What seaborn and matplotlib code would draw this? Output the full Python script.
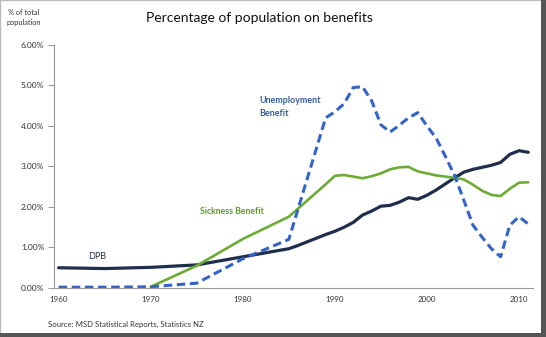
import numpy as np
import pandas as pd
import matplotlib
matplotlib.use("Agg")
import matplotlib.pyplot as plt
import seaborn as sns
from matplotlib.patches import Rectangle

years = [1960, 1965, 1970, 1975, 1980, 1985] + list(range(1986, 2012))

dpb = [0.50, 0.48, 0.51, 0.57, 0.77, 0.97,
       1.05, 1.14, 1.23, 1.32, 1.40, 1.50, 1.62, 1.80, 1.90, 2.02,
       2.04, 2.12, 2.23, 2.19, 2.29, 2.42, 2.57, 2.72, 2.86, 2.93,
       2.98, 3.03, 3.10, 3.30, 3.39, 3.35]

sickness = [np.nan, np.nan, 0.03, 0.55, 1.21, 1.76,
            1.96, 2.16, 2.36, 2.56, 2.77, 2.79, 2.75, 2.71, 2.76, 2.83,
            2.93, 2.98, 2.99, 2.88, 2.83, 2.78, 2.75, 2.72, 2.68, 2.55,
            2.40, 2.30, 2.27, 2.45, 2.60, 2.61]

unemployment = [0.02, 0.02, 0.03, 0.12, 0.72, 1.20,
                1.95, 2.70, 3.45, 4.20, 4.35, 4.55, 4.95, 4.97, 4.62, 4.03,
                3.85, 4.02, 4.20, 4.33, 4.00, 3.70, 3.25, 2.78, 2.17, 1.55,
                1.25, 0.97, 0.77, 1.55, 1.76, 1.58]

ytick_vals = [0, 1, 2, 3, 4, 5, 6]
ytick_labels = ["0.00%", "1.00%", "2.00%", "3.00%", "4.00%", "5.00%", "6.00%"]
xtick_vals = [1960, 1970, 1980, 1990, 2000, 2010]
xtick_labels = ["1960", "1970", "1980", "1990", "2000", "2010"]

title = "Percentage of population on benefits"
ylab = "% of total\npopulation"
source = "Source: MSD Statistical Reports, Statistics NZ"

sns.set_style("white")
plt.rcParams['font.family'] = ['Lato', 'DejaVu Sans']

df = pd.DataFrame({"year": years, "DPB": dpb, "Sickness": sickness,
                   "Unemployment": unemployment})

fig = plt.figure(figsize=(5.46, 3.37), dpi=100)
ax = fig.add_axes([0.0989, 0.1454, 0.877, 0.7211])

c_dpb = "#1F2E4D"
c_sick = "#6CAC34"
c_unemp = "#3464C8"

d1 = df[["year", "DPB"]].dropna()
sns.lineplot(data=d1, x="year", y="DPB", ax=ax, color=c_dpb, lw=2.3,
             solid_joinstyle="round")
d2 = df[["year", "Sickness"]].dropna()
sns.lineplot(data=d2, x="year", y="Sickness", ax=ax, color=c_sick, lw=1.9)
d3 = df[["year", "Unemployment"]].dropna()
sns.lineplot(data=d3, x="year", y="Unemployment", ax=ax, color=c_unemp,
             lw=2.2, dashes=False)
ax.lines[-1].set_dashes((2.8, 1.5))
ax.lines[-1].set_dash_capstyle("butt")

ax.set_xlim(1959.5, 2011.5)
ax.set_ylim(0, 6)
ax.set_xlabel("")
ax.set_ylabel("")

ax.set_yticks(ytick_vals)
ax.set_yticklabels(ytick_labels, fontsize=6.0, color="#333333")
ax.set_xticks(xtick_vals)
ax.set_xticklabels(xtick_labels, fontsize=5.8, color="#333333")
ax.set_xticks(np.arange(1964.5, 2012, 5), minor=True)
ax.tick_params(axis="x", which="major", length=0, pad=6)
ax.tick_params(axis="x", which="minor", length=4, color="#999999", width=0.8)
ax.tick_params(axis="y", which="major", length=4, color="#999999", width=0.8,
               pad=3, direction="out", left=True)

for s in ["top", "right"]:
    ax.spines[s].set_visible(False)
for s in ["left", "bottom"]:
    ax.spines[s].set_color("#999999")
    ax.spines[s].set_linewidth(0.8)

ax.text(1981.8, 4.47, "Unemployment\nBenefit", color="#3A5BA0", fontsize=6.5,
        fontweight="bold", ha="left", va="center", linespacing=1.45)
ax.text(1975.4, 1.90, "Sickness Benefit", color="#5E9A2E", fontsize=6.3,
        fontweight="bold", ha="left", va="center")
ax.text(1963.2, 0.78, "DPB", color="#1F2E4D", fontsize=6.5,
        ha="left", va="center")

fig.text(0.476, 0.948, title, fontsize=10, ha="center", va="center",
         color="#111111")
fig.text(0.043, 0.948, ylab, fontsize=5.3, ha="center", va="center",
         color="#333333", linespacing=1.5)
fig.text(0.088, 0.038, source, fontsize=5.6, ha="left", va="center",
         color="#333333")

# frame with shadow
fig.patches.append(Rectangle((0.0, 0.0), 1.0, 1.0, transform=fig.transFigure,
                             fill=False, ec="#BBBBBB", lw=1.0))
fig.patches.append(Rectangle((0.991, 0.0), 0.009, 1.0, transform=fig.transFigure,
                             fc="#555555", ec="none"))
fig.patches.append(Rectangle((0.0, 0.0), 1.0, 0.013, transform=fig.transFigure,
                             fc="#555555", ec="none"))

fig.savefig("out.png", dpi=100)
